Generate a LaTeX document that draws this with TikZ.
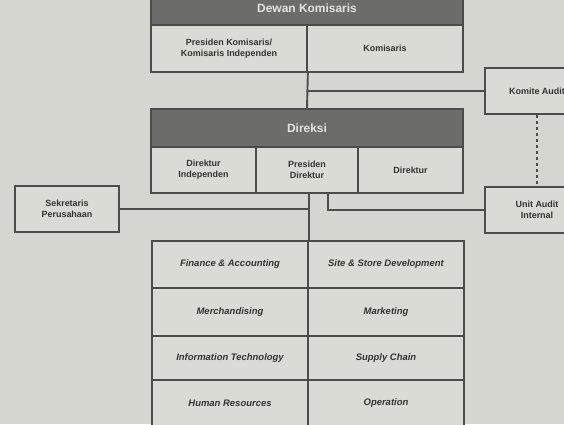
\documentclass[tikz,border=0pt]{standalone}
\usepackage{fontspec}
\setmainfont{Liberation Sans}
\usetikzlibrary{calc}
\definecolor{bgc}{HTML}{D6D6D0}
\definecolor{cellc}{HTML}{DBDBD5}
\definecolor{linec}{HTML}{4C4C4A}
\definecolor{hdrc}{HTML}{6C6C6A}
\definecolor{hdrt}{HTML}{E4E4E0}
\definecolor{textc}{HTML}{343432}
\tikzset{
  cell/.style={draw=linec, line width=1.7bp, fill=cellc, inner sep=0pt, align=center,
    text=textc, font=\bfseries\fontsize{9}{11}\selectfont},
  hdr/.style={cell, fill=hdrc, text=hdrt, font=\bfseries\fontsize{12}{14}\selectfont},
  gcell/.style={cell, font=\bfseries\itshape\fontsize{9.5}{11}\selectfont,
    minimum width=156bp},
  conn/.style={draw=linec, line width=1.9bp},
}
\begin{document}
\begin{tikzpicture}[x=1bp, y=-1bp]
\useasboundingbox (0,0) rectangle (564,424);
\fill[bgc] (0,0) rectangle (564,424);
\clip (0,0) rectangle (564,424);

% Dewan Komisaris
\node[hdr, minimum width=312bp, minimum height=33bp] (dkh) at (307,8.5) {Dewan Komisaris};
\node[cell, minimum width=156bp, minimum height=47bp] (dk1) at (229,48.5) {Presiden Komisaris/\\Komisaris Independen};
\node[cell, minimum width=156bp, minimum height=47bp] (dk2) at (385,48.5) {Komisaris};

% Direksi
\node[hdr, minimum width=312bp, minimum height=38bp] (drh) at (307,128) {Direksi};
\node[cell, minimum width=105bp, minimum height=46bp] (dr1) at (203.5,170) {Direktur\\Independen};
\node[cell, minimum width=102bp, minimum height=46bp] (dr2) at (307,170) {Presiden\\Direktur};
\node[cell, minimum width=105bp, minimum height=46bp] (dr3) at (410.5,170) {Direktur};

% side boxes
\node[cell, minimum width=104bp, minimum height=46bp] (sek) at (67,209) {Sekretaris\\Perusahaan};
\node[cell, minimum width=104bp, minimum height=46bp] (kom) at (537,91) {Komite Audit};
\node[cell, minimum width=104bp, minimum height=46bp] (uai) at (537,210) {Unit Audit\\Internal};

% grid
\node[gcell, minimum height=47bp] (g11) at (230,264.5) {Finance \& Accounting};
\node[gcell, minimum height=47bp] (g12) at (386,264.5) {Site \& Store Development};
\node[gcell, minimum height=48bp] (g21) at (230,312) {Merchandising};
\node[gcell, minimum height=48bp] (g22) at (386,312) {Marketing};
\node[gcell, minimum height=44bp] (g31) at (230,358) {Information Technology};
\node[gcell, minimum height=44bp] (g32) at (386,358) {Supply Chain};
\node[gcell, minimum height=47bp] (g41) at (230,403.5) {Human Resources};
\node[gcell, minimum height=47bp] (g42) at (386,403.5) {Operation};

% connectors
\draw[conn] (dk1.south east) -- (drh.north);
\draw[conn] (kom.west -| dk1.south east) -- (kom.west);
\draw[conn] (g11.north east |- dr2.south) -- (g11.north east);
\draw[conn] (sek.east) -- (sek.east -| g11.north east);
\coordinate (uj) at ([xshift=19bp]g11.north east |- dr2.south);
\draw[conn] (uj) |- (uai.west);
\draw[conn, dash pattern=on 3bp off 3bp] (kom.south) -- (uai.north);
\end{tikzpicture}
\end{document}
